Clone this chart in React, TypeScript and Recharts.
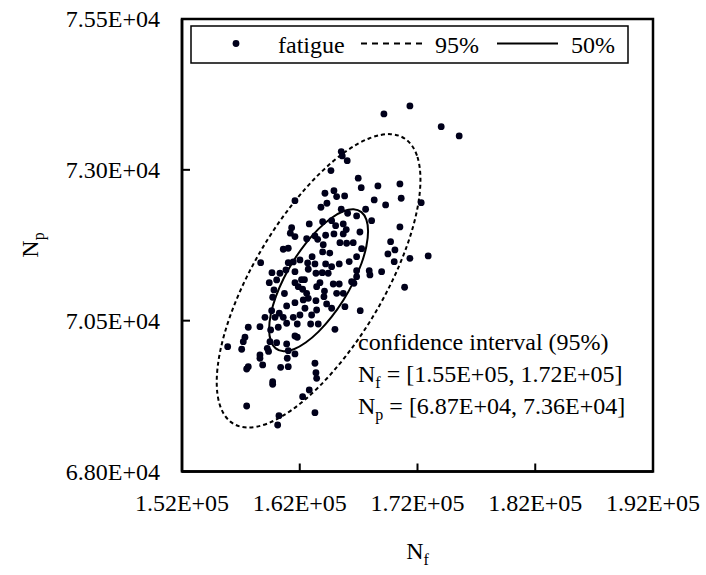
import React from 'react';
import { ScatterChart, Scatter, XAxis, YAxis, ReferenceArea } from 'recharts';

// fatigue samples (N_f, N_p)
const nfValues = [
  169148, 171355, 174012, 175540, 165523, 165608, 166032, 164649, 166966, 167221,
  168638, 170506, 161593, 164139, 164903, 165132, 165812, 164309, 165523, 166066,
  166830, 167594, 168324, 169292, 170616, 172314, 168104, 170506, 161312, 162807,
  163944, 164708, 165048, 165693, 161593, 162586, 163290, 163520, 164199, 164903,
  165693, 167110, 166542, 165981, 165413, 163995, 167255, 166830, 163944, 160599,
  161024, 169716, 170082, 169487, 170022, 171355, 172908, 158681, 161024, 161448,
  162017, 162671, 163290, 164199, 164708, 165353, 166830, 167900, 167959, 168953,
  159640, 160319, 160829, 161593, 162722, 163375, 163910, 164419, 166830, 166406,
  159411, 160039, 161593, 161873, 162246, 162586, 162722, 163435, 163715, 164844,
  165353, 165132, 165693, 166601, 170905, 159810, 159700, 160888, 161593, 162297,
  163375, 164054, 164284, 164708, 165837, 167136, 162441, 163435, 159615, 160260,
  159046, 159895, 160599, 161448, 162017, 163010, 157628, 158621, 159530, 160175,
  161593, 161788, 159470, 160039, 160888, 157348, 157204, 157068, 155879, 159241,
  159350, 161024, 161593, 160939, 158621, 158621, 158851, 157628, 157492, 160379,
  161024, 163290, 163375, 163435, 159700, 159700, 162807, 162246, 157492, 163290,
  160234, 160124, 160888, 161788, 162925, 163570, 164988,
  162150, 163050, 164550, 165950, 161200, 162400, 163800, 160700, 166200, 164100,
];
const npValues = [
  73927, 74059, 73716, 73562, 73302, 73230, 73152, 72987, 72861, 72705,
  72733, 72766, 72489, 72612, 72655, 72556, 72567, 72446, 72347, 72280,
  72236, 72347, 72501, 72418, 72529, 72456, 72158, 72053, 72042, 72103,
  72141, 72158, 72075, 72103, 71893, 71859, 71904, 71849, 71916, 71937,
  71937, 71970, 71793, 71783, 71793, 71760, 71694, 71561, 71639, 71684,
  71700, 71810, 71672, 71606, 71478, 71534, 71573, 71461, 71461, 71473,
  71506, 71457, 71440, 71440, 71395, 71440, 71329, 71329, 71258, 71312,
  71296, 71286, 71340, 71312, 71352, 71286, 71296, 71286, 71229, 71147,
  71130, 71175, 71130, 71064, 71021, 70954, 70871, 71064, 71130, 71108,
  71108, 70954, 70954, 71120, 71054, 71009, 70888, 70744, 70798, 70843,
  70832, 70898, 70777, 70706, 70732, 70666, 70706, 70677, 70666, 70623,
  70556, 70556, 70556, 70556, 70594, 70594, 70391, 70400, 70346, 70391,
  70246, 70225, 70152, 70135, 70114, 70225, 70152, 70026, 70069, 70042,
  69990, 70003, 69948, 69877, 69931, 69877, 69766, 69737, 69699, 69727,
  69737, 69794, 69638, 69545, 69489, 69446, 69351, 69240, 69086, 68975,
  68925, 68771, 70457, 70445, 70445, 70445, 70357,
  71180, 71560, 71620, 72010, 71950, 71180, 72380, 70950, 71480, 70990,
];

// 95% confidence ellipse outline
const ellipse95Nf = [
  172350, 172052, 171178, 169787, 167975, 165865, 163600, 161335, 159225, 157413, 156022, 155148,
  154850, 155148, 156022, 157413, 159225, 161335, 163600, 165865, 167975, 169787, 171178, 172052,
];
const ellipse95Np = [
  72857, 73260, 73520, 73619, 73551, 73319, 72941, 72440, 71853, 71219, 70580, 69981,
  69463, 69060, 68800, 68701, 68769, 69001, 69379, 69880, 70467, 71101, 71740, 72339,
];

// 50% ellipse outline
const ellipse50Nf = [
  167850, 167705, 167281, 166605, 165725, 164700, 163600, 162500, 161475, 160595, 159919, 159495,
  159350, 159495, 159919, 160595, 161475, 162500, 163600, 164700, 165725, 166605, 167281, 167705,
];
const ellipse50Np = [
  71991, 72186, 72312, 72360, 72326, 72214, 72031, 71789, 71505, 71198, 70890, 70600,
  70349, 70154, 70028, 69980, 70014, 70126, 70309, 70551, 70835, 71142, 71450, 71740,
];

const xTicks = [152000, 162000, 172000, 182000, 192000];
const yTicks = [68000, 70500, 73000, 75500];

const FONT = '"Liberation Serif", "Times New Roman", serif';
const FS = 24;
const SUB = 16;

const fmt = (v: number) => {
  const e = Math.floor(Math.log10(v));
  const m = v / Math.pow(10, e);
  return m.toFixed(2) + 'E+' + String(e).padStart(2, '0');
};

const toPts = (xs: number[], ys: number[]) => xs.map((x, i) => ({ x, y: ys[i] }));
const fatigueData = toPts(nfValues, npValues);
const e95Data = toPts(ellipse95Nf, ellipse95Np);
const e50Data = toPts(ellipse50Nf, ellipse50Np);

const XTick = (props: any) => {
  const { x, y, payload } = props;
  return (
    <g>
      <line x1={x} x2={x} y1={y} y2={y - 8} stroke="#000" strokeWidth={2} />
      <text x={x} y={y + 39} textAnchor="middle" fontFamily={FONT} fontSize={FS} fill="#000">
        {fmt(payload.value)}
      </text>
    </g>
  );
};

const YTick = (props: any) => {
  const { x, y, payload } = props;
  return (
    <g>
      <line x1={x} x2={x + 8} y1={y} y2={y} stroke="#000" strokeWidth={2} />
      <text x={x - 22} y={y + 8} textAnchor="end" fontFamily={FONT} fontSize={FS} fill="#000">
        {fmt(payload.value)}
      </text>
    </g>
  );
};

const Dot = (props: any) => {
  const { cx, cy } = props;
  if (cx == null || cy == null) return <g />;
  return <circle cx={cx} cy={cy} r={3.4} fill="#00001a" />;
};

const NoShape = () => <g />;

export default function App() {
  return (
    <div style={{ position: 'absolute', left: 0, top: 0, width: 706, height: 575, background: '#fff' }}>
      <ScatterChart width={706} height={575} margin={{ top: 19, right: 53, left: 0, bottom: 0 }}>
        <XAxis
          type="number"
          dataKey="x"
          domain={[152000, 192000]}
          ticks={xTicks}
          interval={0}
          tick={<XTick />}
          tickLine={false}
          tickSize={0}
          tickMargin={0}
          axisLine={{ stroke: '#000', strokeWidth: 2.5 }}
          height={103.5}
          allowDataOverflow
        />
        <YAxis
          type="number"
          dataKey="y"
          domain={[68000, 75500]}
          ticks={yTicks}
          interval={0}
          tick={<YTick />}
          tickLine={false}
          tickSize={0}
          tickMargin={0}
          axisLine={{ stroke: '#000', strokeWidth: 2.5 }}
          width={182}
          allowDataOverflow
        />
        <ReferenceArea
          x1={152000}
          x2={192000}
          y1={68000}
          y2={75500}
          fill="none"
          fillOpacity={0}
          stroke="#000"
          strokeWidth={2.5}
          ifOverflow="visible"
        />
        <Scatter
          data={e95Data}
          shape={<NoShape />}
          line={{ stroke: '#000', strokeWidth: 2, strokeDasharray: '4 3', fill: 'none' }}
          lineJointType="basisClosed"
          isAnimationActive={false}
        />
        <Scatter
          data={e50Data}
          shape={<NoShape />}
          line={{ stroke: '#000', strokeWidth: 2, fill: 'none' }}
          lineJointType="basisClosed"
          isAnimationActive={false}
        />
        <Scatter data={fatigueData} shape={<Dot />} isAnimationActive={false} />
      </ScatterChart>

      <svg
        width={706}
        height={575}
        style={{ position: 'absolute', left: 0, top: 0, pointerEvents: 'none' }}
        fontFamily={FONT}
        fontSize={FS}
      >
        {/* legend */}
        <rect x={191} y={26} width={437} height={37} fill="#fff" stroke="#000" strokeWidth={1.5} />
        <circle cx={236} cy={43.5} r={3.4} fill="#00001a" />
        <text x={278} y={53}>fatigue</text>
        <line x1={361} x2={422} y1={43.5} y2={43.5} stroke="#000" strokeWidth={2} strokeDasharray="6 5" />
        <text x={435} y={53}>95%</text>
        <line x1={497} x2={558} y1={43.5} y2={43.5} stroke="#000" strokeWidth={2} />
        <text x={571} y={53}>50%</text>

        {/* annotation */}
        <text x={358} y={350}>confidence interval (95%)</text>
        <text x={358} y={382}>
          N<tspan dy={6} fontSize={SUB}>f</tspan>
          <tspan dy={-6}> = [1.55E+05, 1.72E+05]</tspan>
        </text>
        <text x={358} y={414}>
          N<tspan dy={6} fontSize={SUB}>p</tspan>
          <tspan dy={-6}> = [6.87E+04, 7.36E+04]</tspan>
        </text>

        {/* axis titles */}
        <text x={417.5} y={559} textAnchor="middle">
          N<tspan dy={6} fontSize={SUB}>f</tspan>
        </text>
        <text x={38} y={245} textAnchor="middle" transform="rotate(-90, 38, 245)">
          N<tspan dy={6} fontSize={SUB}>p</tspan>
        </text>
      </svg>
    </div>
  );
}
